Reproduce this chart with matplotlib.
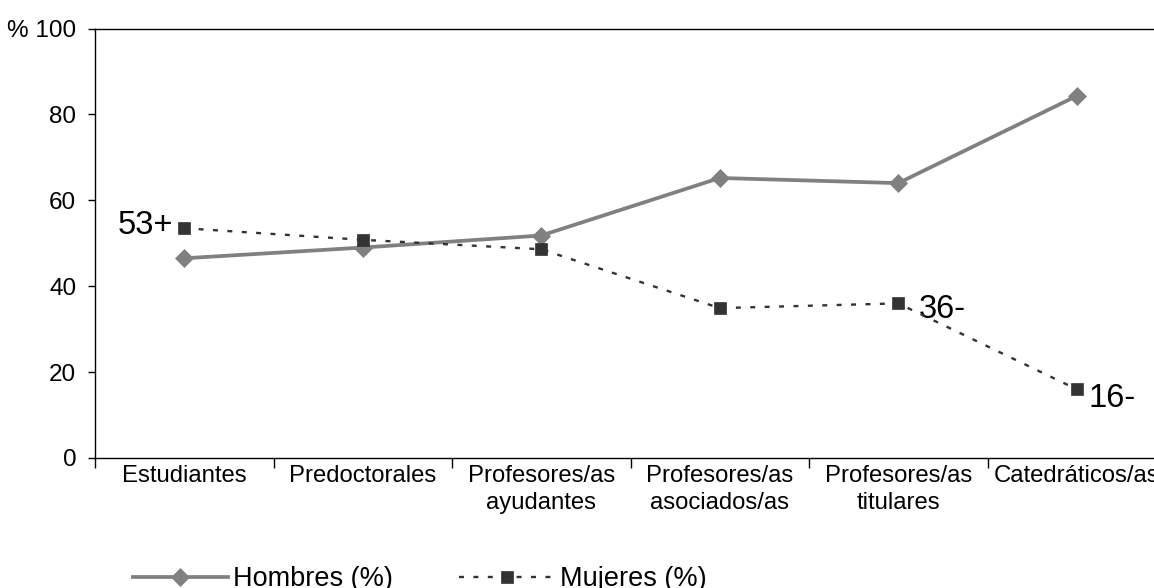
import numpy as np
import matplotlib
matplotlib.use('Agg')
import matplotlib.pyplot as plt
from matplotlib.ticker import FixedLocator

plt.rcParams['font.family'] = ['Liberation Sans', 'DejaVu Sans']

# data
categorias = ['Estudiantes', 'Predoctorales', 'Profesores/as\nayudantes',
              'Profesores/as\nasociados/as', 'Profesores/as\ntitulares',
              'Catedráticos/as']
hombres = [46.5, 49.0, 51.8, 65.2, 64.0, 84.3]
mujeres = [53.5, 50.8, 48.6, 34.9, 36.0, 16.0]
etiquetas = {0: '53+', 4: '36-', 5: '16-'}
yticks = [0, 20, 40, 60, 80, 100]
ytick_labels = ['0', '20', '40', '60', '80', '% 100']

fig = plt.figure(figsize=(11.54, 5.88), dpi=100)
ax = fig.add_axes([95 / 1154, 130 / 588, 1071 / 1154, 429.5 / 588])

x = np.arange(len(categorias))
ax.plot(x, hombres, color='#808080', lw=2.7, marker='D', ms=9.5,
        mfc='#808080', mec='#808080', mew=0.5, label='Hombres (%)',
        clip_on=False, zorder=3)
ax.plot(x, mujeres, color='#333333', lw=1.7, dashes=(2.1, 4.0),
        marker='s', ms=8.5, mfc='#333333', mec='#333333', mew=0.5,
        label='Mujeres (%)', clip_on=False, zorder=4)

# value labels next to the Mujeres points
offsets = {0: (-8, -4.3, 'right'), 4: (15, -10.5, 'left'), 5: (8.6, -13, 'left')}
for i, txt in etiquetas.items():
    dx, dy, ha = offsets[i]
    ax.annotate(txt, (x[i], mujeres[i]), xytext=(dx, dy),
                textcoords='offset points', ha=ha, va='baseline',
                fontsize=23.5, annotation_clip=False)

ax.set_xlim(-0.5, len(categorias) - 0.5)
ax.set_ylim(0, 100)
ax.set_yticks(yticks)
ax.set_yticklabels(ytick_labels)
ax.set_xticks(x)
ax.set_xticklabels(categorias, linespacing=1.3)
ax.xaxis.set_minor_locator(FixedLocator(np.arange(-0.5, len(categorias), 1.0)))

ax.tick_params(axis='y', direction='out', length=5, width=1, pad=8.5,
               labelsize=17.5)
ax.tick_params(axis='x', which='major', length=0, pad=5, labelsize=17.2)
ax.tick_params(axis='x', which='minor', direction='out', length=7, width=1)
for s in ax.spines.values():
    s.set_linewidth(1.0)
    s.set_color('black')

fig.legend(loc='center left', bbox_to_anchor=(133 / 1154, 9 / 588),
           ncol=2, frameon=False, fontsize=19.5, handlelength=3.5,
           handletextpad=0.2, columnspacing=2.45, borderpad=0,
           borderaxespad=0, numpoints=1)

fig.savefig('out.png', dpi=100)
